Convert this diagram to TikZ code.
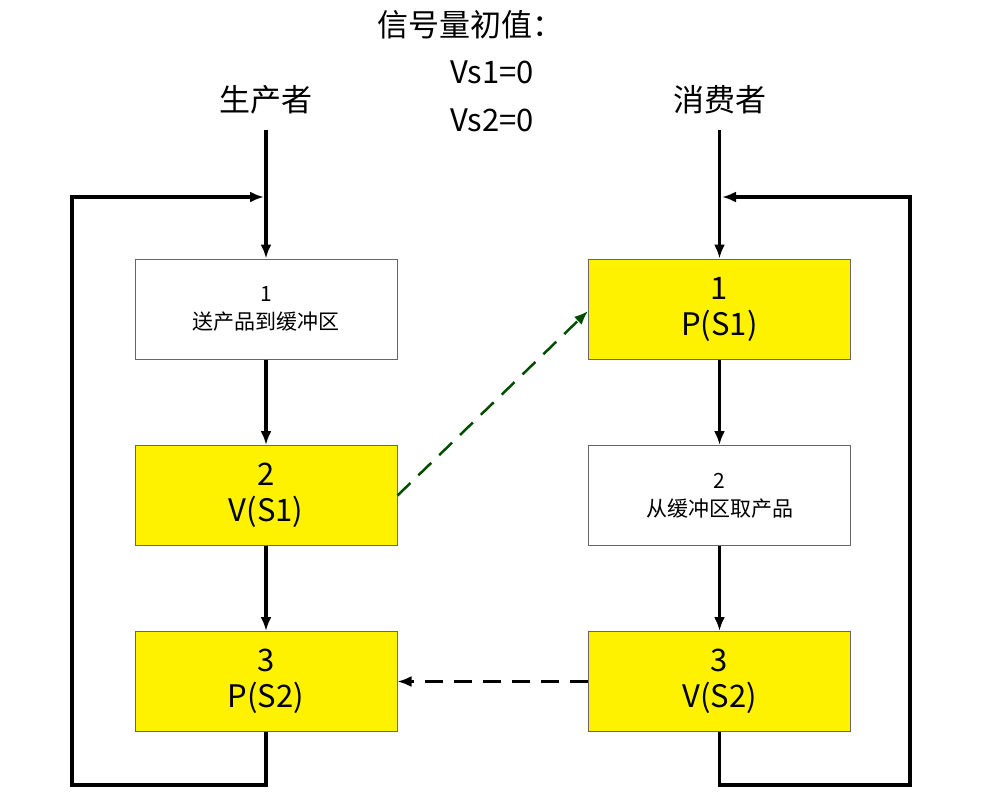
\documentclass[tikz,border=0pt]{standalone}
\usepackage{fontspec}
\newfontfamily\cjk{Noto Sans CJK SC}
\usetikzlibrary{arrows.meta}
\begin{document}
\begin{tikzpicture}[x=1pt,y=-1pt,
 box/.style={draw=black!60,line width=1pt,minimum width=262pt,minimum height=100pt,align=center,inner sep=0pt},
 yb/.style={box,fill=yellow},
 big/.style={font=\cjk\fontsize{31}{36}\selectfont},
 small/.style={font=\cjk\fontsize{21}{28}\selectfont},
 flow/.style={line width=3.2pt,-{Latex[length=14pt,width=11pt]}},
 loop/.style={line width=3.2pt}]
\useasboundingbox (0,0) rectangle (986,801);
\node[small,box,fill=white] (l1) at (266,309) {1\\送产品到缓冲区};
\node[big,yb] (l2) at (266,495.5) {2\\V(S1)};
\node[big,yb] (l3) at (266,681.5) {3\\P(S2)};
\node[big,yb] (r1) at (719.5,309) {1\\P(S1)};
\node[small,box,fill=white] (r2) at (719.5,495.5) {2\\从缓冲区取产品};
\node[big,yb] (r3) at (719.5,681.5) {3\\V(S2)};
\node[big] (t) at (470,25) {信号量初值：};
\node[big] (v1) at (492,72) {Vs1=0};
\node[big] (v2) at (492,120) {Vs2=0};
\node[big] (p) at (266,100) {生产者};
\node[big] (c) at (719.5,100) {消费者};
\coordinate (ls) at (266,130);
\coordinate (rs) at (719.5,130);
\draw[flow] (ls) -- (l1);
\draw[flow] (rs) -- (r1);
\draw[flow] (l1) -- (l2);
\draw[flow] (l2) -- (l3);
\draw[flow] (r1) -- (r2);
\draw[flow] (r2) -- (r3);
\draw[loop,-{Latex[length=14pt,width=11pt]}] (l3.south) -- (266,785) -- (72,785) -- (72,197) -- (264,197);
\draw[loop,-{Latex[length=14pt,width=11pt]}] (r3.south) -- (719.5,785) -- (910,785) -- (910,197) -- (722,197);
\draw[line width=2.5pt,dash pattern=on 18pt off 11pt,color=green!30!black,-{Latex[length=14pt,width=11pt]}] (l2.east) -- (r1.west|-0,311);
\draw[line width=2.5pt,dash pattern=on 18pt off 11pt,-{Latex[length=14pt,width=11pt]}] (r3.west) -- (l3.east);
\end{tikzpicture}
\end{document}
